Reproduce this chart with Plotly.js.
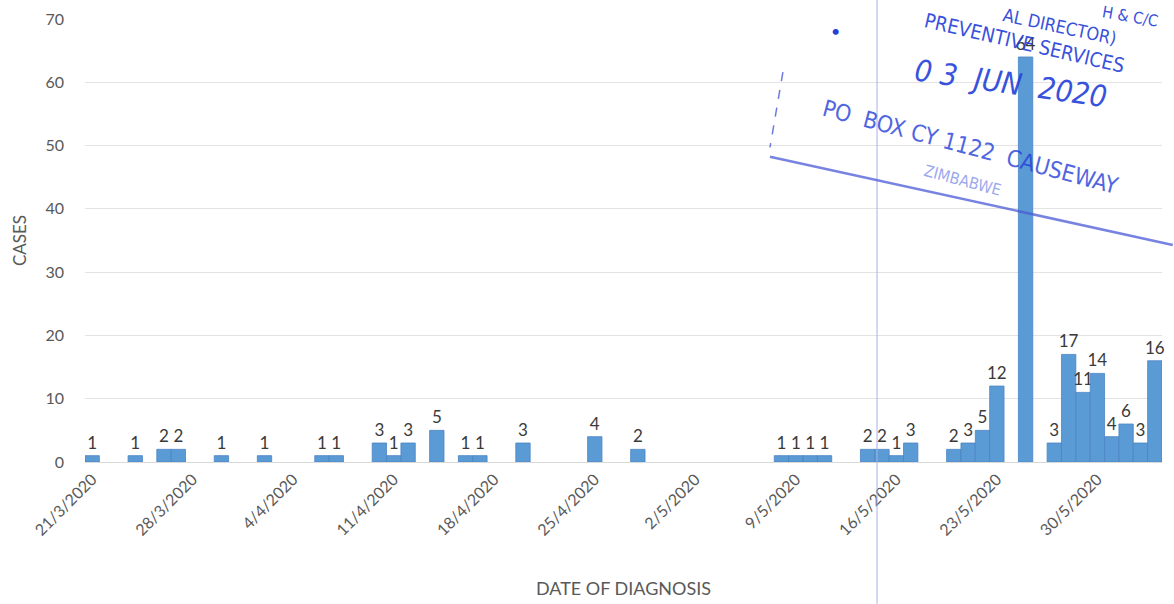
<!DOCTYPE html>
<html>
<head>
<meta charset="utf-8">
<script src="https://cdn.plot.ly/plotly-3.0.1.min.js"></script>
<style>html,body{margin:0;padding:0;background:#fff;}#chart{width:1174px;height:604px;}</style>
</head>
<body>
<div id="chart"></div>
<script>
// ---- data ----
const dates = [
  '2020-03-21','2020-03-24','2020-03-26','2020-03-27','2020-03-30',
  '2020-04-02','2020-04-06','2020-04-07','2020-04-10','2020-04-11',
  '2020-04-12','2020-04-14','2020-04-16','2020-04-17','2020-04-20',
  '2020-04-25','2020-04-28',
  '2020-05-08','2020-05-09','2020-05-10','2020-05-11',
  '2020-05-14','2020-05-15','2020-05-16','2020-05-17',
  '2020-05-20','2020-05-21','2020-05-22','2020-05-23',
  '2020-05-25','2020-05-27','2020-05-28','2020-05-29','2020-05-30',
  '2020-05-31','2020-06-01','2020-06-02','2020-06-03'
];
const cases = [
  1,1,2,2,1,
  1,1,1,3,1,
  3,5,1,1,3,
  4,2,
  1,1,1,1,
  2,2,1,3,
  2,3,5,12,
  64,3,17,11,14,
  4,6,3,16
];
const tickDates = ['2020-03-21','2020-03-28','2020-04-04','2020-04-11','2020-04-18','2020-04-25','2020-05-02','2020-05-09','2020-05-16','2020-05-23','2020-05-30'];
const tickLabels = ['21/3/2020','28/3/2020','4/4/2020','11/4/2020','18/4/2020','25/4/2020','2/5/2020','9/5/2020','16/5/2020','23/5/2020','30/5/2020'];
const yTicks = [0,10,20,30,40,50,60,70];

const FONT = 'Lato, "Open Sans", sans-serif';
const DAY = 86400000;
const INK = '#2440d8';

const trace = {
  type: 'bar',
  x: dates,
  y: cases,
  width: dates.map(() => DAY),
  marker: {color: '#5b9bd5', line: {color: '#4a84c4', width: 0.8}},
  text: cases.map(String),
  textposition: 'outside',
  constraintext: 'none',
  cliponaxis: false,
  textfont: {family: FONT, size: 17, color: '#3a3a3a'},
  hoverinfo: 'x+y'
};

const stampAnn = (text, x, y, angle, size, extra) => Object.assign({
  text: text, xref: 'paper', yref: 'paper', x: x, y: y, showarrow: false,
  textangle: angle, font: {family: '"DejaVu Sans Condensed", "DejaVu Sans", sans-serif', size: size, color: INK},
  xanchor: 'center', yanchor: 'middle', opacity: 0.9
}, extra || {});

const layout = {
  width: 1174, height: 604,
  margin: {l: 85, r: 12, t: 19, b: 142},
  paper_bgcolor: '#ffffff', plot_bgcolor: '#ffffff',
  showlegend: false,
  bargap: 0,
  font: {family: FONT, color: '#595959'},
  xaxis: {
    type: 'date',
    range: ['2020-03-20 12:00', '2020-06-03 12:00'],
    tickmode: 'array', tickvals: tickDates, ticktext: tickLabels,
    tickangle: -45,
    tickfont: {family: FONT, size: 16, color: '#595959'},
    showgrid: false, zeroline: false, showline: false, ticks: '',
    ticklabelstandoff: 4,
    title: {text: 'DATE OF DIAGNOSIS', font: {family: FONT, size: 18, color: '#595959'}, standoff: 44},
    automargin: false, fixedrange: true
  },
  yaxis: {
    range: [0, 70],
    tickmode: 'array', tickvals: yTicks,
    tickfont: {family: FONT, size: 16, color: '#595959'},
    showgrid: true, gridcolor: '#e3e3e3', gridwidth: 1,
    zeroline: true, zerolinecolor: '#d9d9d9', zerolinewidth: 1,
    showline: false, ticks: '', ticklabelstandoff: 20,
    title: {text: 'CASES', font: {family: FONT, size: 17, color: '#595959'}, standoff: 14},
    automargin: false, fixedrange: true
  },
  shapes: [
    // scanner line
    {type: 'line', xref: 'paper', yref: 'paper', x0: 0.7354, x1: 0.7354, y0: -0.32, y1: 1.05, line: {color: '#aab0e6', width: 1}},
    // stamp border lines
    {type: 'line', xref: 'paper', yref: 'paper', x0: 0.636, x1: 1.01, y0: 0.689, y1: 0.49, line: {color: '#4a5ad8', width: 2.5}, opacity: 0.75},
    {type: 'line', xref: 'paper', yref: 'paper', x0: 0.648, x1: 0.636, y0: 0.88, y1: 0.71, line: {color: '#4a5ad8', width: 1.5, dash: 'dash'}, opacity: 0.8}
  ],
  annotations: [
    stampAnn('AL DIRECTOR)', 0.905, 0.982, 12, 18),
    stampAnn('H & C/C', 0.97, 1.005, 10, 16),
    stampAnn('PREVENTIVE SERVICES', 0.872, 0.945, 13, 20),
    stampAnn('<i>0 3  JUN  2020</i>', 0.86, 0.855, 8, 30),
    stampAnn('PO  BOX CY 1122  CAUSEWAY', 0.822, 0.71, 15, 23, {opacity: 0.8}),
    stampAnn('ZIMBABWE', 0.815, 0.635, 15, 16, {opacity: 0.45}),
    {text: '•', xref: 'paper', yref: 'paper', x: 0.703, y: 1.0, showarrow: false, font: {size: 16, color: INK}}
  ]
};

Plotly.newPlot('chart', [trace], layout, {displayModeBar: false, staticPlot: true});
</script>
</body>
</html>
